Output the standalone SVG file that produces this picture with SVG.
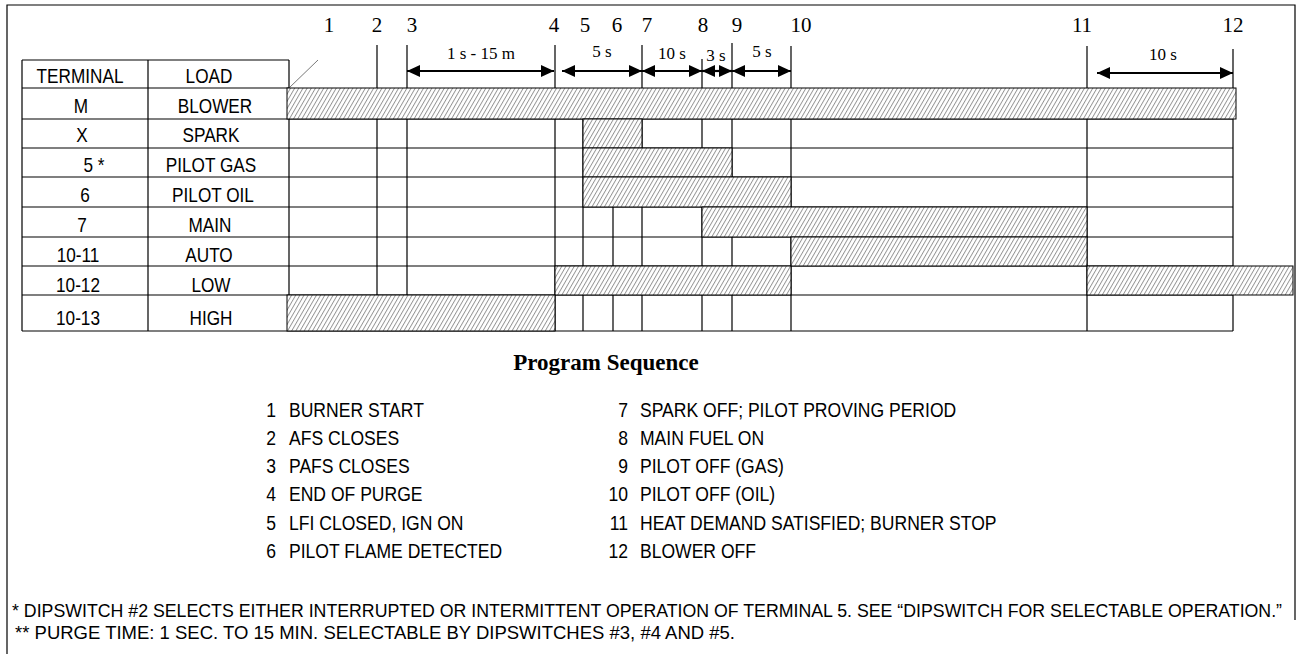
<svg xmlns="http://www.w3.org/2000/svg" width="1297" height="654" viewBox="0 0 1297 654">
<style>
.sans{font-family:"Liberation Sans",Arial,sans-serif;fill:#000}
.serif{font-family:"Liberation Serif","Times New Roman",serif;fill:#000}
.tb{font-size:20px;text-anchor:middle}
.num{font-size:21px;text-anchor:middle}
.dl{font-size:17px;text-anchor:middle}
.li{font-size:19.5px}
.ln{font-size:19.5px;text-anchor:end}
.fn{font-size:17.5px}
.g{stroke:#000;stroke-width:1.2;fill:none}
.bar{fill:url(#hatch);stroke:#000;stroke-width:1}
.dim{stroke:#000;stroke-width:2.2;fill:none;marker-start:url(#ah);marker-end:url(#ah)}
</style>
<defs>
<pattern id="hatch" patternUnits="userSpaceOnUse" width="3.6" height="10" patternTransform="rotate(30)">
<rect width="3.6" height="10" fill="#fff"/>
<line x1="0.5" y1="0" x2="0.5" y2="10" stroke="#707070" stroke-width="0.75"/>
</pattern>
<marker id="ah" viewBox="0 0 13 12" refX="13" refY="6" markerWidth="13" markerHeight="12" markerUnits="userSpaceOnUse" orient="auto-start-reverse">
<path d="M0,0 L13,6 L0,12 z" fill="#000"/>
</marker>
</defs>
<rect width="1297" height="654" fill="#fff"/>
<g id="frame" class="g">
<path d="M7,654 V5 H1295 V620"/>
</g>
<g id="table">
<g class="g">
<path d="M22,60 H289 M22,88 H289 M22,60 V331 M148,60 V331 M289,60 V331"/>
<path d="M22,119 H1233 M22,148 H1233 M22,177 H1233 M22,207 H1233 M22,237 H1233 M22,266 H1233 M22,295 H1233 M22,331 H1233"/>
</g>
<line x1="289" y1="88" x2="318" y2="60" stroke="#555" stroke-width="0.8"/>
<g class="sans tb">
<text transform="translate(80,83) scale(0.86,1)">TERMINAL</text><text transform="translate(209,83) scale(0.86,1)">LOAD</text>
<text transform="translate(81,113) scale(0.86,1)">M</text><text transform="translate(215,113) scale(0.86,1)">BLOWER</text>
<text transform="translate(82,142) scale(0.86,1)">X</text><text transform="translate(211,142) scale(0.86,1)">SPARK</text>
<text transform="translate(94,172) scale(0.86,1)">5 *</text><text transform="translate(211,172) scale(0.86,1)">PILOT GAS</text>
<text transform="translate(85,202) scale(0.86,1)">6</text><text transform="translate(213,202) scale(0.86,1)">PILOT OIL</text>
<text transform="translate(82,232) scale(0.86,1)">7</text><text transform="translate(210,232) scale(0.86,1)">MAIN</text>
<text transform="translate(78,262) scale(0.86,1)">10-11</text><text transform="translate(209,262) scale(0.86,1)">AUTO</text>
<text transform="translate(78,292) scale(0.86,1)">10-12</text><text transform="translate(211,292) scale(0.86,1)">LOW</text>
<text transform="translate(78,325) scale(0.86,1)">10-13</text><text transform="translate(211,325) scale(0.86,1)">HIGH</text>
</g>
</g>
<g id="timeline" class="g">
<path d="M377,45 V331 M407,45 V331 M555,45 V331 M583,119 V331 M613,119 V331 M642,45 V331 M702,59 V331 M732,43 V331 M791,46 V331 M1087,46 V331 M1233,49 V331"/>
</g>
<g id="bars">
<rect id="bar-blower" class="bar" x="287" y="88" width="949" height="31"/>
<rect id="bar-spark" class="bar" x="583" y="119" width="59" height="29"/>
<rect id="bar-pilotgas" class="bar" x="583" y="148" width="149" height="29"/>
<rect id="bar-pilotoil" class="bar" x="583" y="177" width="208" height="30"/>
<rect id="bar-main" class="bar" x="702" y="207" width="385" height="30"/>
<rect id="bar-auto" class="bar" x="791" y="237" width="296" height="29"/>
<rect id="bar-low1" class="bar" x="555" y="266" width="236" height="29"/>
<rect id="bar-low2" class="bar" x="1087" y="266" width="206" height="29"/>
<rect id="bar-high" class="bar" x="287" y="295" width="268" height="36"/>
</g>
<g id="numbers" class="serif num">
<text x="329" y="32">1</text><text x="377" y="32">2</text><text x="412" y="32">3</text>
<text x="554" y="32">4</text><text x="585" y="32">5</text><text x="617" y="32">6</text>
<text x="647" y="32">7</text><text x="703" y="32">8</text><text x="737" y="32">9</text>
<text x="801" y="32">10</text><text x="1082" y="32">11</text><text x="1233" y="32">12</text>
</g>
<g id="dimensions">
<line class="dim" x1="407" y1="71" x2="554" y2="71"/>
<line class="dim" x1="562" y1="71" x2="642" y2="71"/>
<line class="dim" x1="642" y1="71" x2="702" y2="71"/>
<line class="dim" x1="702" y1="71" x2="732" y2="71"/>
<line class="dim" x1="732" y1="71" x2="791" y2="71"/>
<line class="dim" x1="1097" y1="73" x2="1233" y2="73"/>
<g class="serif dl">
<text x="481" y="59">1 s - 15 m</text>
<text x="602" y="57">5 s</text>
<text x="672" y="59">10 s</text>
<text x="716" y="61">3 s</text>
<text x="762" y="57">5 s</text>
<text x="1163" y="60">10 s</text>
</g>
</g>
<g id="sequence">
<text class="serif" x="606" y="370" font-size="23" font-weight="bold" text-anchor="middle">Program Sequence</text>
<g class="sans ln" transform="translate(276,0) scale(0.9,1)">
<text y="417">1</text><text y="445">2</text><text y="473">3</text><text y="501">4</text><text y="530">5</text><text y="558">6</text>
</g>
<g class="sans li" transform="translate(289,0) scale(0.9,1)">
<text y="417">BURNER START</text>
<text y="445">AFS CLOSES</text>
<text y="473">PAFS CLOSES</text>
<text y="501">END OF PURGE</text>
<text y="530">LFI CLOSED, IGN ON</text>
<text y="558">PILOT FLAME DETECTED</text>
</g>
<g class="sans ln" transform="translate(628,0) scale(0.9,1)">
<text y="417">7</text><text y="445">8</text><text y="473">9</text><text y="501">10</text><text y="530">11</text><text y="558">12</text>
</g>
<g class="sans li" transform="translate(640,0) scale(0.9,1)">
<text y="417">SPARK OFF; PILOT PROVING PERIOD</text>
<text y="445">MAIN FUEL ON</text>
<text y="473">PILOT OFF (GAS)</text>
<text y="501">PILOT OFF (OIL)</text>
<text y="530">HEAT DEMAND SATISFIED; BURNER STOP</text>
<text y="558">BLOWER OFF</text>
</g>
</g>
<g id="notes" class="sans fn">
<text x="12" y="617" textLength="1270" lengthAdjust="spacingAndGlyphs">* DIPSWITCH #2 SELECTS EITHER INTERRUPTED OR INTERMITTENT OPERATION OF TERMINAL 5. SEE “DIPSWITCH FOR SELECTABLE OPERATION.”</text>
<text x="15" y="639" textLength="720" lengthAdjust="spacingAndGlyphs">** PURGE TIME: 1 SEC. TO 15 MIN. SELECTABLE BY DIPSWITCHES #3, #4 AND #5.</text>
</g>
</svg>
